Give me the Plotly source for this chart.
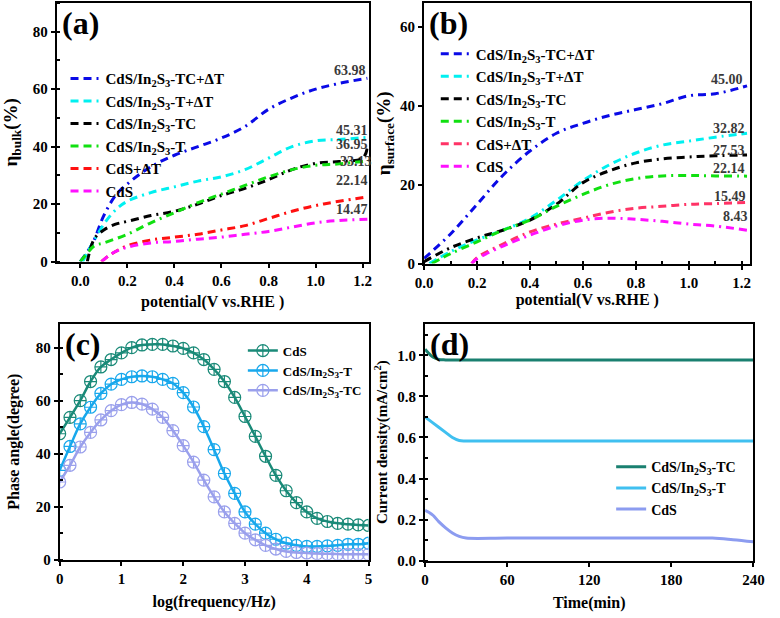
import plotly.graph_objects as go

# ---------------- data ----------------
# (a) bulk efficiency
a_names = ["CdS/In<sub>2</sub>S<sub>3</sub>-TC+ΔT", "CdS/In<sub>2</sub>S<sub>3</sub>-T+ΔT",
           "CdS/In<sub>2</sub>S<sub>3</sub>-TC", "CdS/In<sub>2</sub>S<sub>3</sub>-T",
           "CdS+ΔT", "CdS"]
a_colors = ["#0a0ae6", "#00f0f0", "#000000", "#10e010", "#ff1010", "#ff10ff"]
a_x = [
    [0.0, 0.05, 0.1, 0.15, 0.2, 0.3, 0.4, 0.5, 0.6, 0.7, 0.8, 0.9, 1.0, 1.1, 1.22],
    [0.01, 0.05, 0.1, 0.15, 0.2, 0.3, 0.4, 0.5, 0.6, 0.7, 0.8, 0.9, 1.0, 1.1, 1.22],
    [0.03, 0.06, 0.1, 0.15, 0.2, 0.3, 0.4, 0.5, 0.6, 0.7, 0.8, 0.9, 1.0, 1.1, 1.2, 1.22],
    [0.0, 0.03, 0.06, 0.1, 0.2, 0.3, 0.4, 0.5, 0.6, 0.7, 0.8, 0.9, 1.0, 1.1, 1.22],
    [0.09, 0.12, 0.15, 0.2, 0.3, 0.4, 0.5, 0.6, 0.7, 0.8, 0.9, 1.0, 1.1, 1.22],
    [0.09, 0.12, 0.15, 0.2, 0.3, 0.4, 0.5, 0.6, 0.7, 0.8, 0.9, 1.0, 1.1, 1.22],
]
a_y = [
    [0, 6, 16, 23, 27, 33, 37, 40, 43, 47, 53, 57, 60, 62, 63.8],
    [0, 6, 13, 18, 21, 24, 26, 28, 29.5, 32, 36, 40, 42, 42.5, 43.2],
    [0, 8, 11, 13, 14, 16, 17.5, 20, 23, 25.5, 28.5, 32, 34.2, 34.8, 36, 39.5],
    [0, 3, 5.5, 6.5, 9.5, 13.5, 17, 20.5, 23.5, 26.5, 29.5, 32, 33.5, 34, 35],
    [0, 2, 3.5, 5.5, 7.5, 8.5, 9.5, 11, 12.5, 15, 17.5, 19.5, 21, 22.5],
    [0, 2, 3.5, 5, 6.5, 7, 7.8, 8.5, 9.5, 10.5, 12, 13.5, 14.3, 14.7],
]
a_labels = ["63.98", "45.31", "36.95", "33.13", "22.14", "14.47"]
a_label_x = [1.146, 1.153, 1.153, 1.17, 1.153, 1.153]
a_label_y = [66.4, 45.5, 40.8, 35.0, 28.3, 18.1]

# (b) surface efficiency
b_colors = ["#0a0ae6", "#00f0f0", "#000000", "#10e010", "#ff3366", "#ff10ff"]
b_x = [
    [0.0, 0.1, 0.2, 0.3, 0.4, 0.5, 0.6, 0.7, 0.8, 0.9, 1.0, 1.1, 1.22],
    [0.02, 0.1, 0.2, 0.3, 0.4, 0.5, 0.6, 0.7, 0.8, 0.9, 1.0, 1.1, 1.22],
    [0.0, 0.1, 0.2, 0.3, 0.4, 0.5, 0.6, 0.7, 0.8, 0.9, 1.0, 1.1, 1.22],
    [0.03, 0.1, 0.2, 0.3, 0.4, 0.5, 0.6, 0.7, 0.8, 0.9, 1.0, 1.1, 1.22],
    [0.18, 0.2, 0.3, 0.4, 0.5, 0.6, 0.7, 0.8, 0.9, 1.0, 1.1, 1.22],
    [0.18, 0.2, 0.3, 0.4, 0.5, 0.6, 0.7, 0.8, 0.9, 1.0, 1.1, 1.22],
]
b_y = [
    [1.3, 7.5, 15, 22.5, 28.5, 33, 35.5, 37.5, 39, 40.5, 42.5, 43, 45],
    [0, 3, 6, 8.5, 11.5, 16, 21, 25, 28, 30, 31, 32, 33],
    [0.5, 4, 6.5, 8.5, 11, 15, 20.5, 23.5, 25.5, 26.5, 27, 27.3, 27.5],
    [0, 2.5, 5.5, 8.5, 11, 14.5, 17.5, 20, 21.5, 22.2, 22.3, 22.2, 22.14],
    [0, 1.5, 5, 8, 10, 11.5, 13, 14, 14.5, 15, 15.2, 15.49],
    [0, 1.2, 4.5, 7.2, 9.5, 11, 11.5, 11.2, 10.7, 10, 9.5, 8.43],
]
b_labels = ["45.00", "32.82", "27.53", "22.14", "15.49", "8.43"]
b_label_x = [1.145, 1.15, 1.15, 1.15, 1.155, 1.176]
b_label_y = [46.7, 34.2, 28.75, 24.2, 17.1, 11.8]

# (c) Bode phase
c_names = ["CdS", "CdS/In<sub>2</sub>S<sub>3</sub>-T", "CdS/In<sub>2</sub>S<sub>3</sub>-TC"]
c_colors = ["#1a8a78", "#18a8ec", "#9aa0ec"]
c_x = [0.0, 0.167, 0.333, 0.5, 0.667, 0.833, 1.0, 1.167, 1.333, 1.5, 1.667, 1.833,
       2.0, 2.167, 2.333, 2.5, 2.667, 2.833, 3.0, 3.167, 3.333, 3.5, 3.667, 3.833,
       4.0, 4.167, 4.333, 4.5, 4.667, 4.833, 5.0]
c_y = [
    [47.5, 53.7, 60, 67.2, 72.7, 75.5, 78, 80, 81, 81.2, 81.2, 80.6, 79.7, 78, 75.5,
     71.8, 67.2, 61.2, 54, 46.5, 39, 31.8, 26, 21.5, 18, 15.6, 14.4, 13.7, 13.4, 13.1, 12.9],
    [33.7, 42.7, 51.2, 57.5, 62.7, 66.2, 68, 69, 69.3, 69, 68, 66.5, 63, 57.6, 50.2,
     41.5, 32.5, 25, 18, 13.4, 10, 7.7, 6.2, 5.4, 5, 5, 5.2, 5.4, 5.8, 5.8, 6.2],
    [29.3, 35.6, 42.5, 48, 52.7, 56.2, 58.5, 59.3, 58.7, 56.8, 53.7, 48.7, 43, 36.8, 30,
     23.7, 18, 13.7, 10, 7.5, 5.4, 4, 3.1, 2.7, 2.5, 2.3, 2.2, 2.1, 2, 2, 2],
]

# (d) i-t stability
d_names = ["CdS/In<sub>2</sub>S<sub>3</sub>-TC", "CdS/In<sub>2</sub>S<sub>3</sub>-T", "CdS"]
d_colors = ["#1a8070", "#40c0f0", "#8c9cf0"]
d_x = [
    [0, 2, 5, 8, 10, 15, 30, 60, 120, 180, 240],
    [0, 5, 10, 15, 20, 25, 30, 60, 120, 180, 240],
    [0, 3, 6, 10, 15, 20, 25, 30, 60, 120, 180, 210, 225, 240],
]
d_y = [
    [1.03, 1.015, 0.995, 0.985, 0.98, 0.978, 0.978, 0.978, 0.978, 0.978, 0.978],
    [0.70, 0.675, 0.65, 0.625, 0.6, 0.585, 0.583, 0.583, 0.583, 0.583, 0.583],
    [0.245, 0.235, 0.22, 0.19, 0.16, 0.135, 0.118, 0.11, 0.11, 0.11, 0.11, 0.11, 0.102, 0.092],
]

# ---------------- figure ----------------
W, H = 780, 618
FONT = "Liberation Serif, Times New Roman, DejaVu Serif, serif"
DASH = "8px,5px,8px,5px,2px,5px"

fig = go.Figure()

for i in range(6):
    fig.add_trace(go.Scatter(x=a_x[i], y=a_y[i], mode="lines", name=a_names[i],
                             line=dict(color=a_colors[i], width=3, dash=DASH, shape="spline"),
                             xaxis="x", yaxis="y", legend="legend"))
for i in range(6):
    fig.add_trace(go.Scatter(x=b_x[i], y=b_y[i], mode="lines", name=a_names[i],
                             line=dict(color=b_colors[i], width=3, dash=DASH, shape="spline"),
                             xaxis="x2", yaxis="y2", legend="legend2"))
for i in range(3):
    fig.add_trace(go.Scatter(x=c_x, y=c_y[i], mode="lines+markers", name=c_names[i],
                             line=dict(color=c_colors[i], width=2.5, shape="spline"),
                             marker=dict(symbol="circle-cross-open", size=12,
                                         color=c_colors[i], line=dict(width=1.2)),
                             xaxis="x3", yaxis="y3", legend="legend3"))
for i in range(3):
    fig.add_trace(go.Scatter(x=d_x[i], y=d_y[i], mode="lines", name=d_names[i],
                             line=dict(color=d_colors[i], width=3, shape="spline"),
                             xaxis="x4", yaxis="y4", legend="legend4"))

def px_x(p):
    return p / W

def px_y(p):
    return 1 - p / H

axis_common = dict(showline=True, linewidth=2, linecolor="black", mirror=True,
                   ticks="outside", ticklen=4, tickwidth=1.5, tickcolor="black",
                   showgrid=False, zeroline=False,
                   tickfont=dict(family=FONT, size=15, color="black", weight="bold"))

fig.update_layout(
    width=W, height=H, margin=dict(l=0, r=0, t=0, b=0),
    paper_bgcolor="white", plot_bgcolor="white",
    font=dict(family=FONT, color="black", weight="bold"),
    xaxis=dict(domain=[px_x(49), px_x(369)], range=[-0.1, 1.225], anchor="y",
               tickvals=[0, 0.2, 0.4, 0.6, 0.8, 1.0, 1.2], tickformat=".1f",
               title=dict(text="potential(V vs.RHE )", font=dict(family=FONT, size=16, weight="bold"), standoff=8),
               **axis_common),
    yaxis=dict(domain=[px_y(265), px_y(3)], range=[0, 90], anchor="x",
               tickvals=[0, 20, 40, 60, 80],
               minor=dict(ticks="inside", ticklen=3, dtick=10, tickcolor="black"),
               title=dict(text="η<sub>bulk</sub>(%)", font=dict(family=FONT, size=19, weight="bold"), standoff=10),
               **axis_common),
    xaxis2=dict(domain=[px_x(426), px_x(761)], range=[0, 1.233], anchor="y2",
                tickvals=[0, 0.2, 0.4, 0.6, 0.8, 1.0, 1.2], tickformat=".1f",
                minor=dict(ticks="inside", ticklen=3, dtick=0.1, tickcolor="black"),
                title=dict(text="potential(V vs.RHE )", font=dict(family=FONT, size=16, weight="bold"), standoff=2),
                **axis_common),
    yaxis2=dict(domain=[px_y(267), px_y(3)], range=[0, 66], anchor="x2",
                tickvals=[0, 20, 40, 60],
                title=dict(text="η<sub>surface</sub>(%)", font=dict(family=FONT, size=19, weight="bold"), standoff=4),
                **axis_common),
    xaxis3=dict(domain=[px_x(52), px_x(369)], range=[0, 5], anchor="y3",
                tickvals=[0, 1, 2, 3, 4, 5],
                title=dict(text="log(frequency/Hz)", font=dict(family=FONT, size=16, weight="bold"), standoff=10),
                **axis_common),
    yaxis3=dict(domain=[px_y(567), px_y(328)], range=[0, 89], anchor="x3",
                tickvals=[0, 20, 40, 60, 80],
                minor=dict(ticks="inside", ticklen=3, dtick=10, tickcolor="black"),
                title=dict(text="Phase angle(degree)", font=dict(family=FONT, size=16, weight="bold"), standoff=12),
                **axis_common),
    xaxis4=dict(domain=[px_x(427), px_x(764)], range=[0, 240], anchor="y4",
                tickvals=[0, 60, 120, 180, 240],
                title=dict(text="Time(min)", font=dict(family=FONT, size=16, weight="bold"), standoff=10),
                **axis_common),
    yaxis4=dict(domain=[px_y(568), px_y(328)], range=[0, 1.154], anchor="x4",
                tickvals=[0, 0.2, 0.4, 0.6, 0.8, 1.0], tickformat=".1f",
                minor=dict(ticks="inside", ticklen=3, dtick=0.1, tickcolor="black"),
                title=dict(text="Current density(mA/cm<sup>2</sup>)", font=dict(family=FONT, size=15, weight="bold"), standoff=6),
                **axis_common),
    legend=dict(x=px_x(58), y=px_y(63), xanchor="left", yanchor="top",
                bgcolor="rgba(0,0,0,0)", font=dict(family=FONT, size=15, color="black", weight="bold"),
                itemwidth=30, tracegroupgap=0),
    legend2=dict(x=px_x(438), y=px_y(38), xanchor="left", yanchor="top",
                 bgcolor="rgba(0,0,0,0)", font=dict(family=FONT, size=15, color="black", weight="bold"),
                 itemwidth=30, tracegroupgap=0),
    legend3=dict(x=px_x(240), y=px_y(340), xanchor="left", yanchor="top",
                 bgcolor="rgba(0,0,0,0)", font=dict(family=FONT, size=13, color="black", weight="bold"),
                 itemwidth=30, tracegroupgap=0),
    legend4=dict(x=px_x(618), y=px_y(457), xanchor="left", yanchor="top",
                 bgcolor="rgba(0,0,0,0)", font=dict(family=FONT, size=14, color="black", weight="bold"),
                 itemwidth=30, tracegroupgap=0),
    showlegend=True,
)

annotations = []
for txt, xx, yy in zip(a_labels, a_label_x, a_label_y):
    annotations.append(dict(x=xx, y=yy, xref="x", yref="y", text=txt, showarrow=False,
                            font=dict(family=FONT, size=14, color="#3a3a3a", weight="bold")))
for txt, xx, yy in zip(b_labels, b_label_x, b_label_y):
    annotations.append(dict(x=xx, y=yy, xref="x2", yref="y2", text=txt, showarrow=False,
                            font=dict(family=FONT, size=14, color="#3a3a3a", weight="bold")))
for lab, xr, yr in [("(a)", "x", "y"), ("(b)", "x2", "y2"), ("(c)", "x3", "y3"), ("(d)", "x4", "y4")]:
    annotations.append(dict(x=0.01, y=1.0, xref=xr + " domain", yref=yr + " domain",
                            xanchor="left", yanchor="top", text=lab, showarrow=False,
                            font=dict(family=FONT, size=32, color="black", weight="bold")))
fig.update_layout(annotations=annotations)

fig.write_html("out.html")
